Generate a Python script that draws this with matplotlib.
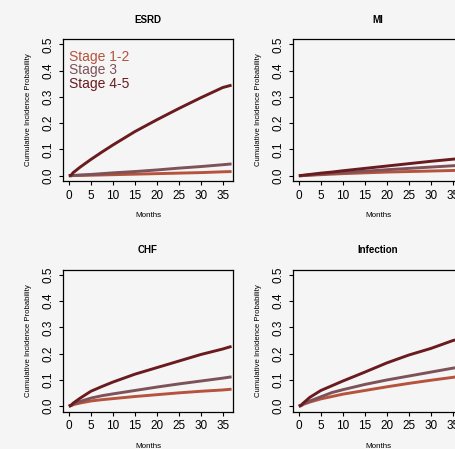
import matplotlib
matplotlib.use("Agg")
import matplotlib.pyplot as plt

plt.rcParams['font.family'] = ['Liberation Sans', 'DejaVu Sans']

# ---- data ----
months = [0, 0.5, 1, 2.5, 5, 7.5, 10, 15, 20, 25, 30, 35, 37]
stages = ["Stage 1-2", "Stage 3", "Stage 4-5"]
colors = ["#b5533c", "#7d5259", "#6a1b1f"]
titles = ["ESRD", "MI", "CHF", "Infection"]

esrd_s12 = [0, 0.000, 0.001, 0.001, 0.002, 0.003, 0.004, 0.006, 0.008, 0.010, 0.012, 0.015, 0.016]
esrd_s3  = [0, 0.000, 0.001, 0.003, 0.005, 0.008, 0.011, 0.016, 0.022, 0.029, 0.035, 0.042, 0.045]
esrd_s45 = [0, 0.002, 0.012, 0.032, 0.062, 0.090, 0.117, 0.168, 0.213, 0.256, 0.297, 0.336, 0.345]

mi_s12 = [0, 0.000, 0.001, 0.002, 0.004, 0.006, 0.008, 0.011, 0.014, 0.016, 0.018, 0.020, 0.021]
mi_s3  = [0, 0.000, 0.001, 0.003, 0.006, 0.009, 0.012, 0.017, 0.023, 0.028, 0.033, 0.038, 0.040]
mi_s45 = [0, 0.001, 0.002, 0.005, 0.010, 0.014, 0.019, 0.028, 0.037, 0.046, 0.055, 0.063, 0.066]

chf_s12 = [0, 0.002, 0.006, 0.012, 0.020, 0.025, 0.029, 0.037, 0.044, 0.051, 0.057, 0.062, 0.065]
chf_s3  = [0, 0.003, 0.008, 0.018, 0.031, 0.040, 0.047, 0.060, 0.073, 0.085, 0.096, 0.107, 0.112]
chf_s45 = [0, 0.004, 0.012, 0.030, 0.057, 0.075, 0.092, 0.122, 0.147, 0.172, 0.197, 0.218, 0.228]

inf_s12 = [0, 0.002, 0.007, 0.016, 0.028, 0.037, 0.046, 0.060, 0.074, 0.087, 0.099, 0.110, 0.115]
inf_s3  = [0, 0.003, 0.009, 0.020, 0.036, 0.052, 0.063, 0.083, 0.100, 0.115, 0.130, 0.145, 0.150]
inf_s45 = [0, 0.004, 0.012, 0.034, 0.060, 0.078, 0.096, 0.130, 0.165, 0.195, 0.220, 0.250, 0.258]

panels = [
    [esrd_s12, esrd_s3, esrd_s45],
    [mi_s12, mi_s3, mi_s45],
    [chf_s12, chf_s3, chf_s45],
    [inf_s12, inf_s3, inf_s45],
]

xticks = [0, 5, 10, 15, 20, 25, 30, 35]
yticks = [0.0, 0.1, 0.2, 0.3, 0.4, 0.5]
ytick_labels = ["0.0", "0.1", "0.2", "0.3", "0.4", "0.5"]

# ---- figure ----
W, H = 455, 449
bg = "#f5f5f5"
fig = plt.figure(figsize=(W / 100, H / 100), dpi=100, facecolor=bg)

ax_w = 170.6 / W
ax_h = 141.8 / H
lefts = [62.7 / W, 292.7 / W]
bottoms = [1 - 181.0 / H, 1 - 411.5 / H]

for i, (title, series) in enumerate(zip(titles, panels)):
    r, c = divmod(i, 2)
    ax = fig.add_axes([lefts[c], bottoms[r], ax_w, ax_h])
    ax.set_facecolor(bg)
    for vals, col in zip(series, colors):
        ax.plot(months, vals, color=col, lw=2.1, solid_capstyle='butt')
    ax.set_xlim(-1.4, 37.4)
    ax.set_ylim(-0.02, 0.52)
    ax.set_xticks(xticks)
    ax.set_xticklabels([str(t) for t in xticks])
    ax.set_yticks(yticks)
    ax.set_yticklabels(ytick_labels, rotation=90, va='center')
    ax.tick_params(axis='both', direction='out', length=3, width=0.8,
                   labelsize=8.5, pad=3.2, colors='black')
    for s in ax.spines.values():
        s.set_linewidth(0.9)
    ax.set_xlabel("Months", fontsize=5.8, labelpad=7.5)
    ax.set_ylabel("Cumulative Incidence Probability", fontsize=5.6, labelpad=7.5)
    ax.text(0.5, 1 + 19.5 / 141.8, title, transform=ax.transAxes,
            ha='center', va='center', fontsize=7, fontweight='bold')
    if i == 0:
        for k, (lab, col) in enumerate(zip(stages, colors)):
            ax.text(0.035, 0.875 - k * 0.095, lab, transform=ax.transAxes,
                    ha='left', va='center', fontsize=10, color=col)

fig.savefig("out.png", dpi=100, facecolor=bg)
